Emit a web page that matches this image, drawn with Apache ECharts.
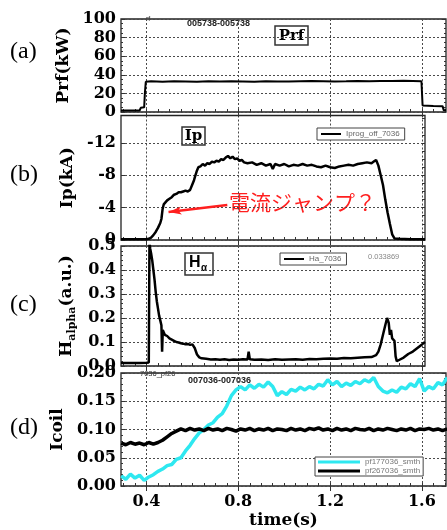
<!DOCTYPE html>
<html>
<head>
<meta charset="utf-8">
<script src="https://cdn.jsdelivr.net/npm/echarts@6.0.0/dist/echarts.min.js"></script>
<style>
  html, body { margin: 0; padding: 0; background: #fff; }
  #main { width: 447px; height: 530px; }
</style>
</head>
<body>
<div id="main"></div>
<script>
// ---- data ----
var xMajorTicks = [0.4, 0.8, 1.2, 1.6];
var xMinorTicks = [0.3, 0.35, 0.4, 0.45, 0.5, 0.55, 0.6, 0.65, 0.7, 0.75,
  0.8, 0.85, 0.9, 0.95, 1.0, 1.05, 1.1, 1.15, 1.2, 1.25,
  1.3, 1.35, 1.4, 1.45, 1.5, 1.55, 1.6, 1.65, 1.7];
var ipMajorTicks = [-12, -8, -4, 0];
var ipMinorTicks = [-15, -14, -13, -12, -11, -10, -9, -8, -7, -6, -5, -4, -3, -2, -1, 0];

// (a) Prf (kW)
var prfTime = [0.289, 0.33, 0.37, 0.375, 0.390, 0.393, 0.397, 0.42, 0.47, 0.52,
  0.57, 0.62, 0.67, 0.72, 0.77, 0.82, 0.87, 0.92, 0.97, 1.02,
  1.07, 1.12, 1.17, 1.22, 1.27, 1.32, 1.37, 1.42, 1.47, 1.52,
  1.56, 1.598, 1.603, 1.61, 1.65, 1.69, 1.695, 1.705];
var prfVal = [1.5, 1.5, 1.6, 4.5, 5, 20, 32.5, 33, 32.6, 33,
  32.8, 32.5, 33, 32.7, 33, 32.8, 32.6, 33, 32.8, 32.7,
  33, 33.2, 33, 32.8, 33, 33.3, 33.1, 33.4, 33.2, 33.5,
  33.3, 33, 7, 6.5, 6.5, 6.3, 2, 1.8];

// (b) Ip (kA)
var ipTime = [0.289, 0.33, 0.37, 0.40, 0.41, 0.42, 0.43, 0.44, 0.45, 0.46,
  0.465, 0.47, 0.475, 0.48, 0.49, 0.50, 0.51, 0.52, 0.53, 0.54,
  0.55, 0.56, 0.57, 0.58, 0.59, 0.60, 0.607, 0.613, 0.62, 0.626,
  0.635, 0.645, 0.655, 0.665, 0.675, 0.685, 0.695, 0.705, 0.715, 0.725,
  0.735, 0.745, 0.755, 0.765, 0.775, 0.785, 0.795, 0.805, 0.815, 0.825,
  0.84, 0.86, 0.88, 0.90, 0.92, 0.94, 0.95, 0.96, 0.98, 1.00,
  1.02, 1.04, 1.06, 1.08, 1.10, 1.12, 1.14, 1.16, 1.18, 1.20,
  1.22, 1.24, 1.26, 1.28, 1.30, 1.32, 1.34, 1.36, 1.38, 1.39,
  1.40, 1.41, 1.42, 1.43, 1.44, 1.45, 1.46, 1.47, 1.48, 1.50,
  1.55, 1.613];
var ipVal = [-0.1, -0.1, -0.1, -0.1, -0.15, -0.3, -0.6, -1.0, -1.5, -2.1,
  -2.6, -3.8, -4.4, -4.6, -4.9, -5.1, -5.3, -5.6, -5.7, -5.9,
  -5.9, -6.0, -6.1, -6.0, -6.2, -6.9, -7.4, -8.0, -8.6, -9.0,
  -9.1, -9.4, -9.2, -9.5, -9.4, -9.7, -9.6, -9.8, -9.7, -10.0,
  -9.9, -10.2, -10.4, -10.1, -10.3, -10.0, -10.1, -9.8, -9.9, -9.6,
  -9.5, -9.6, -9.3, -9.5, -9.2, -9.4, -8.8, -9.4, -9.2, -9.4,
  -9.1, -9.3, -9.2, -9.4, -9.2, -9.3, -9.1, -9.0, -9.2, -9.0,
  -8.9, -9.1, -9.2, -9.3, -9.2, -9.4, -9.5, -9.6, -9.5, -9.7,
  -9.9, -9.2, -8.0, -6.8, -5.0, -3.4, -2.0, -0.7, -0.2, -0.15,
  -0.1, -0.1];
var arrowFrom = [0.752, -4.33];
var arrowTo = [0.496, -3.47];

// (c) H-alpha (a.u.)
var haTime = [0.289, 0.33, 0.37, 0.40, 0.410, 0.413, 0.416, 0.420, 0.425, 0.430,
  0.435, 0.440, 0.445, 0.450, 0.455, 0.460, 0.465, 0.468, 0.471, 0.475,
  0.48, 0.49, 0.50, 0.51, 0.52, 0.53, 0.54, 0.55, 0.56, 0.57,
  0.58, 0.59, 0.60, 0.61, 0.62, 0.63, 0.64, 0.66, 0.68, 0.70,
  0.72, 0.74, 0.76, 0.78, 0.80, 0.82, 0.84, 0.845, 0.85, 0.87,
  0.90, 0.93, 0.96, 0.99, 1.02, 1.05, 1.08, 1.11, 1.14, 1.17,
  1.20, 1.23, 1.26, 1.29, 1.32, 1.35, 1.38, 1.40, 1.41, 1.42,
  1.43, 1.44, 1.448, 1.455, 1.46, 1.465, 1.47, 1.475, 1.48, 1.485,
  1.49, 1.50, 1.52, 1.54, 1.56, 1.58, 1.60, 1.613];
var haVal = [0.012, 0.013, 0.012, 0.014, 0.015, 0.52, 0.49, 0.47, 0.44, 0.40,
  0.36, 0.31, 0.27, 0.24, 0.21, 0.19, 0.17, 0.06, 0.15, 0.14,
  0.13, 0.125, 0.115, 0.11, 0.105, 0.10, 0.098, 0.095, 0.093, 0.09,
  0.092, 0.088, 0.09, 0.075, 0.048, 0.036, 0.032, 0.03, 0.027, 0.028,
  0.026, 0.028, 0.025, 0.027, 0.026, 0.028, 0.027, 0.06, 0.028, 0.026,
  0.027, 0.025, 0.028, 0.026, 0.027, 0.028, 0.026, 0.029, 0.028, 0.030,
  0.031, 0.030, 0.033, 0.032, 0.034, 0.036, 0.037, 0.045, 0.06, 0.09,
  0.13, 0.17, 0.20, 0.18, 0.13, 0.15, 0.115, 0.11, 0.105, 0.04,
  0.02, 0.025, 0.035, 0.05, 0.06, 0.075, 0.09, 0.10];

// (d) coil currents
var coilTime = [0.29, 0.31, 0.33, 0.35, 0.37, 0.39, 0.41, 0.43, 0.45, 0.47,
  0.49, 0.51, 0.53, 0.55, 0.57, 0.59, 0.61, 0.63, 0.65, 0.67,
  0.69, 0.71, 0.73, 0.75, 0.77, 0.79, 0.81, 0.83, 0.85, 0.87,
  0.89, 0.91, 0.93, 0.95, 0.97, 0.99, 1.01, 1.03, 1.05, 1.07,
  1.09, 1.11, 1.13, 1.15, 1.17, 1.19, 1.21, 1.23, 1.25, 1.27,
  1.29, 1.31, 1.33, 1.35, 1.37, 1.39, 1.41, 1.43, 1.45, 1.47,
  1.49, 1.51, 1.53, 1.55, 1.57, 1.59, 1.61, 1.63, 1.65, 1.67,
  1.69, 1.71];
var pf17Val = [0.018, 0.012, 0.021, 0.014, 0.019, 0.010, 0.016, 0.020, 0.026, 0.030,
  0.036, 0.038, 0.047, 0.050, 0.062, 0.072, 0.084, 0.094, 0.100, 0.108,
  0.112, 0.122, 0.128, 0.142, 0.160, 0.170, 0.176, 0.170, 0.179, 0.173,
  0.180, 0.175, 0.184, 0.176, 0.160, 0.167, 0.162, 0.171, 0.168, 0.175,
  0.170, 0.176, 0.172, 0.180, 0.177, 0.188, 0.179, 0.185, 0.176, 0.182,
  0.178, 0.185, 0.181, 0.188, 0.184, 0.192, 0.176, 0.168, 0.165, 0.170,
  0.166, 0.175, 0.172, 0.181, 0.176, 0.190, 0.168, 0.176, 0.172, 0.183,
  0.179, 0.192];
var pf26Val = [0.076, 0.073, 0.077, 0.074, 0.076, 0.073, 0.077, 0.074, 0.077, 0.081,
  0.087, 0.093, 0.097, 0.101, 0.098, 0.102, 0.099, 0.101, 0.098, 0.102,
  0.099, 0.101, 0.098, 0.102, 0.100, 0.097, 0.101, 0.099, 0.102, 0.098,
  0.101, 0.099, 0.102, 0.098, 0.101, 0.100, 0.098, 0.102, 0.099, 0.101,
  0.098, 0.102, 0.100, 0.103, 0.099, 0.101, 0.098, 0.102, 0.099, 0.101,
  0.098, 0.102, 0.100, 0.099, 0.102, 0.098, 0.101, 0.099, 0.102, 0.100,
  0.098, 0.101, 0.099, 0.102, 0.098, 0.101, 0.100, 0.102, 0.099, 0.101,
  0.098, 0.101];

// ---- layout ----
var xMin = 0.289;
var xMaxWide = 1.705;
var xMaxNarrow = 1.613;
var serif = 'DejaVu Serif';
var sans = 'Liberation Sans';
var tickColor = '#333';

function gridLine() {
  return { show: true, lineStyle: { type: [2, 2], color: '#4a4a4a', width: 1 } };
}
function tickLabel(extra) {
  return Object.assign({ fontFamily: serif, fontWeight: 'bold', fontSize: 16, color: '#000', margin: 5 }, extra || {});
}
function axisName() {
  return { fontFamily: serif, fontWeight: 'bold', fontSize: 17, color: '#000' };
}
function zip(ts, vs) {
  return ts.map(function (t, i) { return [t, vs[i]]; });
}

function bottomX(grid, max, labels) {
  return {
    type: 'value', gridIndex: grid, min: xMin, max: max, position: 'bottom',
    axisLine: { show: false },
    axisTick: { inside: true, length: 3, customValues: xMinorTicks, lineStyle: { color: tickColor } },
    axisLabel: tickLabel({
      show: labels, customValues: xMajorTicks, margin: 8,
      formatter: function (v) { return v.toFixed(1); }
    }),
    splitLine: { show: false }
  };
}

// top axis: major ticks, and the vertical dotted grid lines
function topX(grid, max) {
  return {
    type: 'value', gridIndex: grid, min: xMin, max: max, position: 'top',
    axisLine: { show: false },
    axisTick: { inside: true, length: 5, customValues: xMajorTicks, lineStyle: { color: tickColor } },
    axisLabel: { show: false, customValues: xMajorTicks },
    splitLine: gridLine()
  };
}

function leftY(grid, min, max, interval, minor, digits, name) {
  return {
    type: 'value', gridIndex: grid, min: min, max: max, interval: interval,
    name: name, nameLocation: 'middle', nameGap: 39, nameTextStyle: axisName(),
    axisLine: { show: false },
    axisTick: { inside: true, length: 4, lineStyle: { color: tickColor } },
    minorTick: { show: true, splitNumber: minor, length: 2, lineStyle: { color: tickColor } },
    axisLabel: tickLabel({ formatter: function (v) { return v.toFixed(digits); } }),
    splitLine: gridLine()
  };
}

function rightY(grid, min, max, interval, minor) {
  return {
    type: 'value', gridIndex: grid, min: min, max: max, interval: interval, position: 'right',
    axisLine: { show: false },
    axisTick: { inside: true, length: 4, lineStyle: { color: tickColor } },
    minorTick: { show: true, splitNumber: minor, length: 2, lineStyle: { color: tickColor } },
    axisLabel: { show: false },
    splitLine: { show: false }
  };
}

function frame(box) {
  return Object.assign({ show: true, borderColor: '#222', borderWidth: 1.3, backgroundColor: 'transparent' }, box);
}

function legendBox(extra) {
  return Object.assign({
    borderColor: '#444', borderWidth: 1, backgroundColor: '#fff', icon: 'rect',
    itemWidth: 20, itemHeight: 2, padding: [2, 5, 2, 4],
    textStyle: { fontFamily: sans, fontSize: 8, color: '#666' }
  }, extra);
}

var chart = echarts.init(document.getElementById('main'), null, { renderer: 'canvas' });

var haAxis = leftY(2, 0, 0.5, 0.1, 5, 1, '{m|H}{s|alpha}{m|(a.u.)}');
haAxis.nameGap = 37;
haAxis.nameTextStyle = {
  rich: {
    m: { fontFamily: serif, fontWeight: 'bold', fontSize: 17, color: '#000', lineHeight: 22, verticalAlign: 'middle' },
    s: { fontFamily: serif, fontWeight: 'bold', fontSize: 11, color: '#000', lineHeight: 22, verticalAlign: 'bottom' }
  }
};
var coilAxis = leftY(3, 0, 0.2, 0.05, 5, 2, 'Icoil');
coilAxis.nameGap = 40;

chart.setOption({
  animation: false,
  backgroundColor: '#fff',
  grid: [
    frame({ left: 121, top: 19, width: 325, height: 93 }),
    frame({ left: 121, top: 115.5, width: 304, height: 124.5 }),
    frame({ left: 121, top: 246, width: 304, height: 120 }),
    frame({ left: 121, top: 373, width: 325, height: 114 })
  ],
  xAxis: [
    bottomX(0, xMaxWide, false), topX(0, xMaxWide),
    bottomX(1, xMaxNarrow, false), topX(1, xMaxNarrow),
    bottomX(2, xMaxNarrow, false), topX(2, xMaxNarrow),
    Object.assign(bottomX(3, xMaxWide, true), {
      name: 'time(s)', nameLocation: 'middle', nameGap: 26, nameTextStyle: axisName()
    }),
    topX(3, xMaxWide)
  ],
  yAxis: [
    leftY(0, 0, 100, 20, 4, 0, 'Prf(kW)'),
    rightY(0, 0, 100, 20, 4),
    {
      type: 'value', gridIndex: 1, min: -15.4, max: 0, inverse: true,
      name: 'Ip(kA)', nameLocation: 'middle', nameGap: 39, nameTextStyle: axisName(),
      axisLine: { show: false },
      axisTick: { inside: true, length: 4, customValues: ipMajorTicks, lineStyle: { color: tickColor } },
      axisLabel: tickLabel({ customValues: ipMajorTicks }),
      splitLine: gridLine()
    },
    {
      type: 'value', gridIndex: 1, min: -15.4, max: 0, inverse: true, position: 'right',
      axisLine: { show: false },
      axisTick: { inside: true, length: 3, customValues: ipMinorTicks, lineStyle: { color: tickColor } },
      axisLabel: { show: false, customValues: ipMinorTicks },
      splitLine: { show: false }
    },
    haAxis,
    rightY(2, 0, 0.5, 0.1, 5),
    coilAxis,
    rightY(3, 0, 0.2, 0.05, 5)
  ],
  legend: [
    legendBox({ data: ['Iprog_off_7036'], left: 317, top: 128 }),
    legendBox({ data: ['Ha_7036'], left: 280, top: 253 }),
    legendBox({
      data: ['pf177036_smth', 'pf267036_smth'], left: 315, top: 457, orient: 'vertical',
      itemWidth: 42, itemHeight: 3, itemGap: 1, padding: [1, 3, 1, 3],
      textStyle: { fontFamily: sans, fontSize: 8, color: '#777' }
    })
  ],
  series: [
    {
      name: 'Prf', type: 'line', xAxisIndex: 0, yAxisIndex: 0, symbol: 'none',
      lineStyle: { color: '#000', width: 2 }, data: zip(prfTime, prfVal)
    },
    {
      name: 'Iprog_off_7036', type: 'line', xAxisIndex: 2, yAxisIndex: 2, symbol: 'none',
      itemStyle: { color: '#000' },
      lineStyle: { color: '#000', width: 2.5 }, data: zip(ipTime, ipVal),
      markLine: {
        silent: true, symbol: ['none', 'arrow'], symbolSize: [6, 13],
        label: { show: false },
        lineStyle: { color: '#ff1f1f', width: 2.5, type: 'solid' },
        data: [[{ coord: arrowFrom }, { coord: arrowTo }]]
      }
    },
    {
      name: 'Ha_7036', type: 'line', xAxisIndex: 4, yAxisIndex: 4, symbol: 'none',
      itemStyle: { color: '#000' },
      lineStyle: { color: '#000', width: 2.5 }, data: zip(haTime, haVal)
    },
    {
      name: 'pf177036_smth', type: 'line', xAxisIndex: 6, yAxisIndex: 6, symbol: 'none',
      itemStyle: { color: '#2ee8f0' },
      lineStyle: { color: '#2ee8f0', width: 3.5 }, data: zip(coilTime, pf17Val)
    },
    {
      name: 'pf267036_smth', type: 'line', xAxisIndex: 6, yAxisIndex: 6, symbol: 'none',
      itemStyle: { color: '#000' },
      lineStyle: { color: '#000', width: 3.5 }, data: zip(coilTime, pf26Val)
    }
  ],
  graphic: [
    { type: 'text', x: 10, y: 52, style: { text: '(a)', font: '24px "Liberation Serif"', fill: '#000', textVerticalAlign: 'middle' } },
    { type: 'text', x: 10, y: 175, style: { text: '(b)', font: '24px "Liberation Serif"', fill: '#000', textVerticalAlign: 'middle' } },
    { type: 'text', x: 10, y: 305, style: { text: '(c)', font: '24px "Liberation Serif"', fill: '#000', textVerticalAlign: 'middle' } },
    { type: 'text', x: 10, y: 428, style: { text: '(d)', font: '24px "Liberation Serif"', fill: '#000', textVerticalAlign: 'middle' } },

    { type: 'rect', shape: { x: 275, y: 26, width: 33, height: 19 }, style: { fill: '#fff', stroke: '#333', lineWidth: 1.5 } },
    { type: 'text', x: 291.5, y: 36, style: { text: 'Prf', font: 'bold 15px "DejaVu Serif"', fill: '#000', textAlign: 'center', textVerticalAlign: 'middle' } },
    { type: 'rect', shape: { x: 182, y: 127, width: 23, height: 18 }, style: { fill: '#fff', stroke: '#333', lineWidth: 1.5 } },
    { type: 'text', x: 193.5, y: 136.5, style: { text: 'Ip', font: 'bold 15px "DejaVu Serif"', fill: '#000', textAlign: 'center', textVerticalAlign: 'middle' } },
    { type: 'rect', shape: { x: 185, y: 253, width: 28, height: 22 }, style: { fill: '#fff', stroke: '#333', lineWidth: 1.5 } },
    { type: 'text', x: 189, y: 263, style: { text: 'H', font: 'bold 16px "Liberation Sans"', fill: '#000', textVerticalAlign: 'middle' } },
    { type: 'text', x: 201, y: 268, style: { text: 'α', font: 'bold 10px "Liberation Sans"', fill: '#000', textVerticalAlign: 'middle' } },

    { type: 'text', x: 146, y: 19, style: { text: 'rf', font: '7px "Liberation Sans"', fill: '#333', textVerticalAlign: 'middle' } },
    { type: 'text', x: 187, y: 24, style: { text: '005738-005738', font: 'bold 9px "Liberation Sans"', fill: '#222', textVerticalAlign: 'middle' } },
    { type: 'text', x: 140, y: 374, style: { text: '7036_pf26', font: '7.5px "Liberation Sans"', fill: '#333', textVerticalAlign: 'middle' } },
    { type: 'text', x: 188, y: 381, style: { text: '007036-007036', font: 'bold 9px "Liberation Sans"', fill: '#222', textVerticalAlign: 'middle' } },
    { type: 'text', x: 368, y: 257, style: { text: '0.033869', font: '7.5px "Liberation Sans"', fill: '#888', textVerticalAlign: 'middle' } },

    { type: 'text', x: 229, y: 202, style: { text: '電流ジャンプ？', font: '21px "Noto Sans CJK JP"', fill: '#ff1f1f', textVerticalAlign: 'middle' } }
  ]
});
</script>
</body>
</html>
